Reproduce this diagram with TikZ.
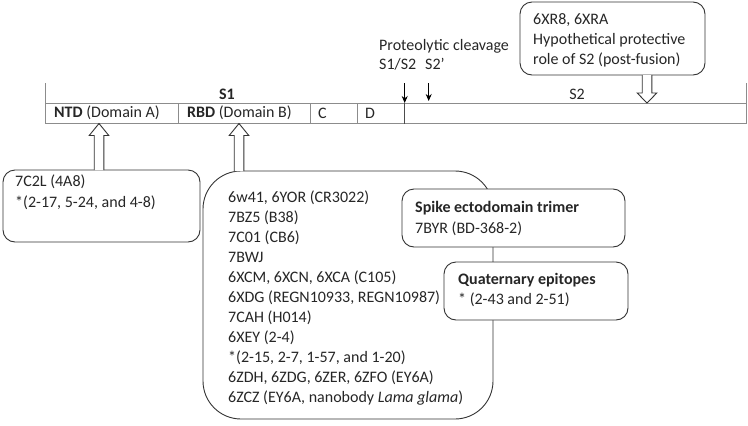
\documentclass[tikz,border=0pt]{standalone}
\usepackage{fontspec}
\setmainfont{Carlito}
\usetikzlibrary{arrows.meta}
\newcommand\hollowarrow[4]{% x, tip y, base y, signed head length
  \draw[hollow] (#1-4.8,#3) -- (#1-4.8,#2+#4) -- (#1-9.8,#2+#4) -- (#1,#2)
    -- (#1+9.8,#2+#4) -- (#1+4.8,#2+#4) -- (#1+4.8,#3);}
\begin{document}
\begin{tikzpicture}[x=1pt,y=-1pt,
  every node/.style={font=\fontsize{16}{20}\selectfont, text=black!85, inner sep=0pt},
  bar/.style={draw=black!45, line width=1pt},
  boxline/.style={draw=black!80, line width=0.9pt, fill=white},
  box/.style={boxline, rounded corners=12pt},
  hollow/.style={draw=black!80, line width=0.9pt, fill=white},
  txt/.style={anchor=north west, align=left},
  lbl/.style={anchor=west},
  cut/.style={-{Stealth[length=7pt,width=6pt]}, line width=0.9pt, draw=black}]
\useasboundingbox (0,0) rectangle (748,426);

% ---- domain bar ----
\coordinate (barTL) at (45.5,83);
\coordinate (barML) at (45.5,103);
\coordinate (barBL) at (45.5,123.5);
\coordinate (barTR) at (746.5,83);
\coordinate (barMR) at (746.5,103);
\coordinate (barBR) at (746.5,123.5);
\draw[bar] (barTL) -- (barBL) -- (barBR) -- (barTR);
\draw[bar] (barML) -- (barMR);
\foreach \xx in {178,310,357}{\draw[bar] (\xx,103) -- (\xx,123.5);}
\draw[line width=0.9pt, draw=black!70] (404.7,103) -- (404.7,123.5);

\node (s1) at (227,94) {\textbf{S1}};
\node (s2) at (577,94) {S2};
\node[lbl] (ntd) at (54,113) {\textbf{NTD} (Domain A)};
\node[lbl] (rbd) at (187,113) {\textbf{RBD} (Domain B)};
\node[lbl] (domc) at (318,113) {C};
\node[lbl] (domd) at (365,113) {D};

% ---- cleavage ----
\node[lbl] (cleave) at (379,46) {Proteolytic cleavage};
\node[lbl] (cs1) at (379,64) {S1/S2};
\node[lbl] (cs2) at (425,64) {S2’};
\coordinate (a1s) at (404.7,83);
\coordinate (a1e) at (404.7,103);
\coordinate (a2s) at (428.7,83);
\coordinate (a2e) at (428.7,101);
\draw[cut] (a1s) -- (a1e);
\draw[cut] (a2s) -- (a2e);

% ---- top box (S2) ----
\node[box, minimum width=185pt, minimum height=73pt] (s2box) at (612.5,38.5) {};
\node[txt] (s2txt) at (533,13.5) {6XR8, 6XRA\\Hypothetical protective\\role of S2 (post-fusion)};
\hollowarrow{647}{103}{75}{-10}

% ---- NTD box ----
\node[box, minimum width=197pt, minimum height=72pt] (ntdbox) at (101.5,206) {};
\node[txt] (ntdtxt) at (15,175) {7C2L (4A8)\\[0.7pt]*(2-17, 5-24, and 4-8)};
\hollowarrow{99}{123.5}{170}{12}

% ---- RBD big box ----
\node[boxline, rounded corners=38pt, minimum width=290pt, minimum height=248pt] (rbdbox) at (348,295) {};
\hollowarrow{239}{123.5}{171}{12}
\node[txt] (rbdtxt) at (228,191) {6w41, 6YOR (CR3022)\\7BZ5 (B38)\\7C01 (CB6)\\7BWJ\\6XCM, 6XCN, 6XCA (C105)\\6XDG (REGN10933, REGN10987)\\7CAH (H014)\\6XEY (2-4)\\*(2-15, 2-7, 1-57, and 1-20)\\6ZDH, 6ZDG, 6ZER, 6ZFO (EY6A)\\6ZCZ (EY6A, nanobody \textit{Lama glama})};

% ---- spike box ----
\node[box, minimum width=223pt, minimum height=58pt] (spikebox) at (513.5,218) {};
\node[txt] (spiketxt) at (415,201) {\textbf{Spike ectodomain trimer}\\[0.7pt]7BYR (BD-368-2)};

% ---- quaternary box ----
\node[box, minimum width=184pt, minimum height=58pt] (quatbox) at (536,291) {};
\node[txt] (quattxt) at (458,273) {\textbf{Quaternary epitopes}\\* (2-43 and 2-51)};
\end{tikzpicture}
\end{document}
